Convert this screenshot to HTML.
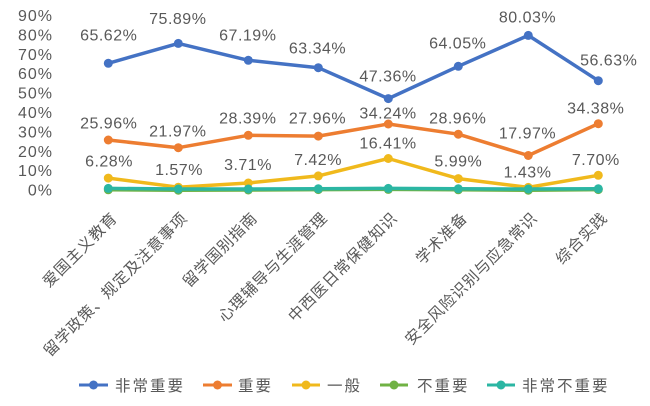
<!DOCTYPE html>
<html><head><meta charset="utf-8"><style>
html,body{margin:0;padding:0;background:#fff;}
svg{display:block;}
.dl{font-family:"Liberation Sans","Noto Sans CJK SC",sans-serif;font-size:16px;fill:#595959;letter-spacing:0.5px;text-anchor:middle;}
.ax{font-family:"Liberation Sans","Noto Sans CJK SC",sans-serif;font-size:16px;fill:#595959;letter-spacing:1px;text-anchor:end;}
.cat{font-family:"Liberation Sans","Noto Sans CJK SC",sans-serif;font-size:15.5px;fill:#595959;letter-spacing:0.8px;text-anchor:end;}
.lg{font-family:"Liberation Sans","Noto Sans CJK SC",sans-serif;font-size:15.5px;fill:#595959;letter-spacing:2px;}
</style></head><body>
<svg width="650" height="406" viewBox="0 0 650 406" xmlns="http://www.w3.org/2000/svg">
<rect width="650" height="406" fill="#fff"/>
<!-- y axis labels -->
<text class="ax" x="53" y="21">90%</text>
<text class="ax" x="53" y="40.4">80%</text>
<text class="ax" x="53" y="59.8">70%</text>
<text class="ax" x="53" y="79.2">60%</text>
<text class="ax" x="53" y="98.6">50%</text>
<text class="ax" x="53" y="118">40%</text>
<text class="ax" x="53" y="137.4">30%</text>
<text class="ax" x="53" y="156.8">20%</text>
<text class="ax" x="53" y="176.2">10%</text>
<text class="ax" x="53" y="195.6">0%</text>

<!-- series lines -->
<g fill="none" stroke-width="3.5" stroke-linejoin="round" stroke-linecap="round">
<polyline stroke="#4472C4" points="108.3,63.3 178.3,43.4 248.3,60.3 318.3,67.7 388.3,98.6 458.3,66.3 528.3,35.4 598.3,80.7"/>
<polyline stroke="#ED7D31" points="108.3,140 178.3,147.7 248.3,135.3 318.3,136.1 388.3,124 458.3,134.2 528.3,155.5 598.3,123.7"/>
<polyline stroke="#F0B91C" points="108.3,178.1 178.3,187.2 248.3,183 318.3,175.9 388.3,158.5 458.3,178.6 528.3,187.4 598.3,175.3"/>
<polyline stroke="#70B244" points="108.3,189.8 178.3,190.2 248.3,190 318.3,189.6 388.3,189.4 458.3,189.8 528.3,190.2 598.3,189.6"/>
<polyline stroke="#2BB6A3" points="108.3,188.4 178.3,189 248.3,189 318.3,188.8 388.3,188.4 458.3,188.8 528.3,189 598.3,188.8"/>
</g>
<g fill="#4472C4"><circle cx="108.3" cy="63.3" r="4.5"/><circle cx="178.3" cy="43.4" r="4.5"/><circle cx="248.3" cy="60.3" r="4.5"/><circle cx="318.3" cy="67.7" r="4.5"/><circle cx="388.3" cy="98.6" r="4.5"/><circle cx="458.3" cy="66.3" r="4.5"/><circle cx="528.3" cy="35.4" r="4.5"/><circle cx="598.3" cy="80.7" r="4.5"/></g>
<g fill="#ED7D31"><circle cx="108.3" cy="140" r="4.5"/><circle cx="178.3" cy="147.7" r="4.5"/><circle cx="248.3" cy="135.3" r="4.5"/><circle cx="318.3" cy="136.1" r="4.5"/><circle cx="388.3" cy="124" r="4.5"/><circle cx="458.3" cy="134.2" r="4.5"/><circle cx="528.3" cy="155.5" r="4.5"/><circle cx="598.3" cy="123.7" r="4.5"/></g>
<g fill="#F0B91C"><circle cx="108.3" cy="178.1" r="4.5"/><circle cx="178.3" cy="187.2" r="4.5"/><circle cx="248.3" cy="183" r="4.5"/><circle cx="318.3" cy="175.9" r="4.5"/><circle cx="388.3" cy="158.5" r="4.5"/><circle cx="458.3" cy="178.6" r="4.5"/><circle cx="528.3" cy="187.4" r="4.5"/><circle cx="598.3" cy="175.3" r="4.5"/></g>
<g fill="#70B244"><circle cx="108.3" cy="189.8" r="4.5"/><circle cx="178.3" cy="190.2" r="4.5"/><circle cx="248.3" cy="190" r="4.5"/><circle cx="318.3" cy="189.6" r="4.5"/><circle cx="388.3" cy="189.4" r="4.5"/><circle cx="458.3" cy="189.8" r="4.5"/><circle cx="528.3" cy="190.2" r="4.5"/><circle cx="598.3" cy="189.6" r="4.5"/></g>
<g fill="#2BB6A3"><circle cx="108.3" cy="188.4" r="4.5"/><circle cx="178.3" cy="189" r="4.5"/><circle cx="248.3" cy="189" r="4.5"/><circle cx="318.3" cy="188.8" r="4.5"/><circle cx="388.3" cy="188.4" r="4.5"/><circle cx="458.3" cy="188.8" r="4.5"/><circle cx="528.3" cy="189" r="4.5"/><circle cx="598.3" cy="188.8" r="4.5"/></g>

<!-- data labels -->
<text class="dl" x="108.7" y="40.7">65.62%</text>
<text class="dl" x="177.8" y="24">75.89%</text>
<text class="dl" x="247.8" y="40.7">67.19%</text>
<text class="dl" x="317.5" y="53.3">63.34%</text>
<text class="dl" x="388" y="81.7">47.36%</text>
<text class="dl" x="457.7" y="48.3">64.05%</text>
<text class="dl" x="527.5" y="22.7">80.03%</text>
<text class="dl" x="608.7" y="65.7">56.63%</text>

<text class="dl" x="108.7" y="128.3">25.96%</text>
<text class="dl" x="177.8" y="136.7">21.97%</text>
<text class="dl" x="247.8" y="123.3">28.39%</text>
<text class="dl" x="317.5" y="123.3">27.96%</text>
<text class="dl" x="388" y="118.3">34.24%</text>
<text class="dl" x="457.7" y="123.3">28.96%</text>
<text class="dl" x="527.5" y="138.3">17.97%</text>
<text class="dl" x="595.7" y="113.3">34.38%</text>

<text class="dl" x="109" y="166.7">6.28%</text>
<text class="dl" x="179" y="175">1.57%</text>
<text class="dl" x="248" y="170">3.71%</text>
<text class="dl" x="318" y="165">7.42%</text>
<text class="dl" x="388" y="148.3">16.41%</text>
<text class="dl" x="458.3" y="166.7">5.99%</text>
<text class="dl" x="527.5" y="177.3">1.43%</text>
<text class="dl" x="595.8" y="165">7.70%</text>

<!-- category labels -->
<text class="cat" transform="translate(118.3,219) rotate(-45)">爱国主义教育</text>
<text class="cat" transform="translate(188.3,219) rotate(-45)">留学政策、规定及注意事项</text>
<text class="cat" transform="translate(258.3,219) rotate(-45)">留学国别指南</text>
<text class="cat" transform="translate(328.3,219) rotate(-45)">心理辅导与生涯管理</text>
<text class="cat" transform="translate(398.3,219) rotate(-45)">中西医日常保健知识</text>
<text class="cat" transform="translate(468.3,219) rotate(-45)">学术准备</text>
<text class="cat" transform="translate(538.3,219) rotate(-45)">安全风险识别与应急常识</text>
<text class="cat" transform="translate(608.3,219) rotate(-45)">综合实践</text>

<!-- legend -->
<g stroke-width="3">
<line x1="79" y1="385" x2="108" y2="385" stroke="#4472C4"/>
<line x1="203" y1="385" x2="232" y2="385" stroke="#ED7D31"/>
<line x1="292" y1="385" x2="320" y2="385" stroke="#F0B91C"/>
<line x1="380" y1="385" x2="408" y2="385" stroke="#70B244"/>
<line x1="487" y1="385" x2="515" y2="385" stroke="#2BB6A3"/>
</g>
<circle cx="93.5" cy="385" r="4.5" fill="#4472C4"/>
<circle cx="217.5" cy="385" r="4.5" fill="#ED7D31"/>
<circle cx="306" cy="385" r="4.5" fill="#F0B91C"/>
<circle cx="394" cy="385" r="4.5" fill="#70B244"/>
<circle cx="501" cy="385" r="4.5" fill="#2BB6A3"/>
<text class="lg" x="115" y="391">非常重要</text>
<text class="lg" x="238" y="391">重要</text>
<text class="lg" x="327" y="391">一般</text>
<text class="lg" x="417" y="391">不重要</text>
<text class="lg" x="522" y="391">非常不重要</text>
</svg>
</body></html>
